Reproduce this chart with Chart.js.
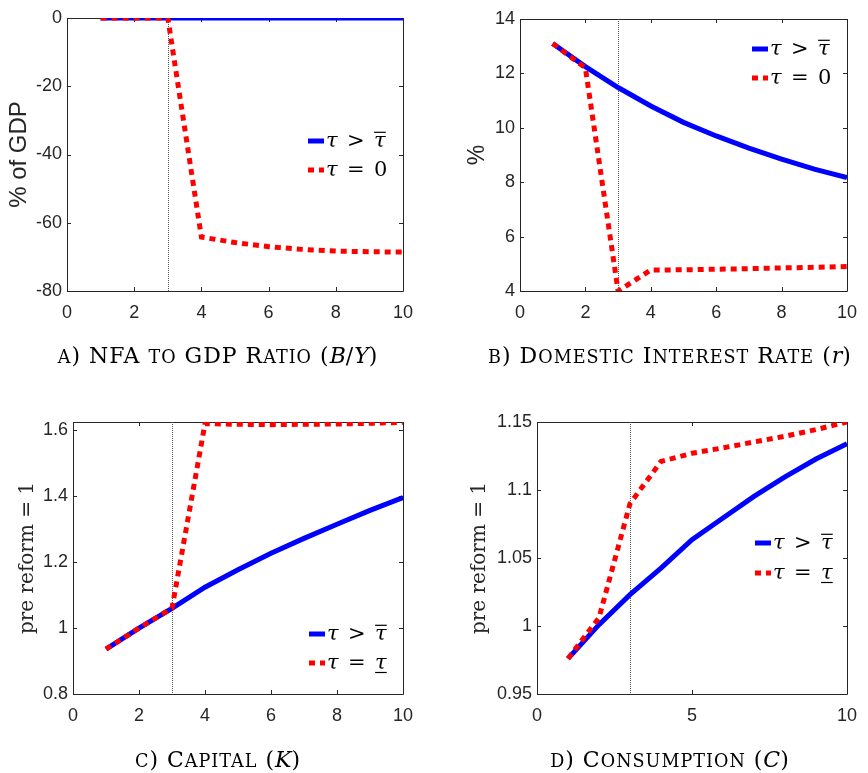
<!DOCTYPE html>
<html>
<head>
<meta charset="utf-8">
<script src="https://cdn.jsdelivr.net/npm/chart.js@4.4.1/dist/chart.umd.min.js"></script>
<style>
  body { margin: 0; background: #fff; }
  #page { position: relative; width: 868px; height: 773px; overflow: hidden; }
  .panel { position: absolute; }
  .caption {
    position: absolute; width: 420px; text-align: center; white-space: nowrap;
    font: 22px "DejaVu Serif", serif; line-height: 22px; color: #000; letter-spacing: 1px;
  }
  .caption i { letter-spacing: 0; }
  .lc { font-size: 0.8em; }
</style>
</head>
<body>
<div id="page">
  <canvas class="panel" id="nfaChart" width="434" height="380" style="left:0;top:0"></canvas>
  <canvas class="panel" id="rateChart" width="434" height="380" style="left:434px;top:0"></canvas>
  <canvas class="panel" id="capitalChart" width="434" height="393" style="left:0;top:380px"></canvas>
  <canvas class="panel" id="consChart" width="434" height="393" style="left:434px;top:380px"></canvas>

  <div class="caption" style="left:8px;top:345px"><span class="sc">a) NFA to GDP Ratio</span> (<i>B</i>/<i>Y</i>)</div>
  <div class="caption" style="left:460px;top:345px"><span class="sc">b) Domestic Interest Rate</span> (<i>r</i>)</div>
  <div class="caption" style="left:8px;top:749px"><span class="sc">c) Capital</span> (<i>K</i>)</div>
  <div class="caption" style="left:460px;top:749px"><span class="sc">d) Consumption</span> (<i>C</i>)</div>
</div>
<script>
// periods after the reform, reform happens in period 3
const periods = [1, 2, 3, 4, 5, 6, 7, 8, 9, 10];
const reformPeriod = 3;

// NFA to GDP ratio, % of GDP
const nfaHigh = [0, 0, 0, 0, 0, 0, 0, 0, 0, 0];
const nfaZero = [0, 0, 0, -64.2, -65.8, -67.0, -67.8, -68.3, -68.5, -68.6];

// domestic interest rate, %
const rateHigh = [13.1, 12.25, 11.48, 10.8, 10.2, 9.7, 9.25, 8.85, 8.48, 8.17];
const rateZero = [13.1, 12.2, 4.0, 4.77, 4.78, 4.8, 4.82, 4.85, 4.87, 4.9];

// capital, pre reform = 1
const capitalHigh = [0.936, 1.0, 1.06, 1.124, 1.177, 1.227, 1.272, 1.315, 1.357, 1.396];
const capitalLow = [0.936, 1.0, 1.06, 1.62, 1.618, 1.617, 1.618, 1.619, 1.621, 1.624];

// consumption, pre reform = 1
const consHigh = [0.976, 1.001, 1.023, 1.0426, 1.0635, 1.0794, 1.0953, 1.1096, 1.1228, 1.134];
const consLow = [0.976, 1.006, 1.09, 1.121, 1.127, 1.131, 1.1353, 1.1395, 1.1444, 1.15];

// tick labels
const xTicksTwo = [0, 2, 4, 6, 8, 10];
const xTicksFive = [0, 5, 10];
const nfaTicks = [-80, -60, -40, -20, 0];
const rateTicks = [4, 6, 8, 10, 12, 14];
const capitalTicks = [0.8, 1.0, 1.2, 1.4, 1.6];
const consTicks = [0.95, 1.0, 1.05, 1.1, 1.15];

// legend entries: lhs op rhs, with an optional bar over/under the rhs
const labelHigh = { lhs: 'τ', op: '>', rhs: 'τ', italicRhs: true, bar: 'over' };
const labelZero = { lhs: 'τ', op: '=', rhs: '0', italicRhs: false, bar: null };
const labelLow = { lhs: 'τ', op: '=', rhs: 'τ', italicRhs: true, bar: 'under' };

const axisColor = '#262626';
const serifFamily = '"DejaVu Serif", serif';
const tickFont = { family: '"Liberation Sans", Arial, sans-serif', size: 18 };

const pairs = values => values.map((v, i) => ({ x: periods[i], y: v }));
const fmt = v => String(Number(v.toFixed(3)));

// caption small caps: lower case runs become smaller capitals
document.querySelectorAll('.sc').forEach(el => {
  el.innerHTML = el.textContent.replace(/[a-z]+/g, m => '<span class="lc">' + m.toUpperCase() + '</span>');
});

// box around the axes with inward tick marks on all four sides
const matlabBox = {
  id: 'matlabBox',
  beforeDatasetsDraw(chart) {
    const { ctx, chartArea: a, scales: { x, y } } = chart;
    const len = 4;
    ctx.save();
    ctx.strokeStyle = axisColor;
    ctx.lineWidth = 1;
    ctx.beginPath();
    ctx.rect(Math.round(a.left) + 0.5, Math.round(a.top) + 0.5,
      Math.round(a.right - a.left), Math.round(a.bottom - a.top));
    x.ticks.forEach(t => {
      const px = Math.round(x.getPixelForValue(t.value)) + 0.5;
      ctx.moveTo(px, a.bottom); ctx.lineTo(px, a.bottom - len);
      ctx.moveTo(px, a.top); ctx.lineTo(px, a.top + len);
    });
    y.ticks.forEach(t => {
      const py = Math.round(y.getPixelForValue(t.value)) + 0.5;
      ctx.moveTo(a.left, py); ctx.lineTo(a.left + len, py);
      ctx.moveTo(a.right, py); ctx.lineTo(a.right - len, py);
    });
    ctx.stroke();
    ctx.restore();
  }
};

// thin dotted marker at the reform period
const reformLine = {
  id: 'reformLine',
  beforeDatasetsDraw(chart, args, opts) {
    const { ctx, chartArea: a, scales: { x } } = chart;
    const px = Math.round(x.getPixelForValue(opts.at)) + 0.5;
    ctx.save();
    ctx.strokeStyle = '#555';
    ctx.lineWidth = 1;
    ctx.setLineDash([1, 1]);
    ctx.beginPath();
    ctx.moveTo(px, a.top);
    ctx.lineTo(px, a.bottom);
    ctx.stroke();
    ctx.restore();
  }
};

// legend without a frame, math style labels
const tauLegend = {
  id: 'tauLegend',
  afterDatasetsDraw(chart, args, opts) {
    const { ctx, chartArea: a } = chart;
    const size = 21;
    const upright = size + 'px ' + serifFamily;
    const italic = 'italic ' + upright;
    const gap = 0.45 * size;
    ctx.save();
    chart.data.datasets.forEach((ds, i) => {
      const y = a.top + opts.top + i * opts.rowGap;
      const x0 = a.right - opts.left;
      // line sample
      ctx.strokeStyle = ds.borderColor;
      ctx.lineWidth = ds.borderWidth;
      ctx.setLineDash(ds.borderDash || []);
      ctx.beginPath();
      ctx.moveTo(x0, y);
      ctx.lineTo(x0 + 16, y);
      ctx.stroke();
      ctx.setLineDash([]);

      const lab = ds.legendText;
      const base = y + 6;
      let x = x0 + 18;
      ctx.fillStyle = '#000';
      ctx.textBaseline = 'alphabetic';
      ctx.textAlign = 'left';
      ctx.font = italic;
      ctx.fillText(lab.lhs, x, base);
      x += ctx.measureText(lab.lhs).width + gap;
      ctx.font = upright;
      ctx.fillText(lab.op, x, base);
      x += ctx.measureText(lab.op).width + gap;
      ctx.font = lab.italicRhs ? italic : upright;
      ctx.fillText(lab.rhs, x, base);
      const w = ctx.measureText(lab.rhs).width;
      if (lab.bar) {
        const by = lab.bar === 'over' ? base - 0.7 * size : base + 3.5;
        ctx.strokeStyle = '#000';
        ctx.lineWidth = 1.2;
        ctx.beginPath();
        ctx.moveTo(x, by);
        ctx.lineTo(x + w, by);
        ctx.stroke();
      }
    });
    ctx.restore();
  }
};

function buildPanel(id, spec) {
  new Chart(document.getElementById(id), {
    type: 'line',
    data: {
      datasets: [{
        label: 'tau > tau bar',
        data: pairs(spec.high),
        borderColor: '#0000ff',
        borderWidth: 5,
        order: 1,
        legendText: labelHigh
      }, {
        label: spec.lowLabel === labelZero ? 'tau = 0' : 'tau = tau underbar',
        data: pairs(spec.low),
        borderColor: '#ff0000',
        borderWidth: 5,
        borderDash: [6, 5],
        order: 0,
        legendText: spec.lowLabel
      }]
    },
    options: {
      responsive: false,
      animation: false,
      layout: { padding: spec.padding },
      elements: {
        point: { radius: 0, hoverRadius: 0 },
        line: { tension: 0, fill: false, borderCapStyle: 'butt' }
      },
      plugins: {
        legend: { display: false },
        tooltip: { enabled: false },
        tauLegend: spec.legend,
        reformLine: { at: reformPeriod }
      },
      scales: {
        x: {
          type: 'linear', min: 0, max: 10,
          grid: { display: false, drawTicks: false }, border: { display: false },
          afterBuildTicks: s => { s.ticks = spec.xTicks.map(v => ({ value: v })); },
          afterFit: s => { s.height = 40; },
          ticks: { padding: 11, font: tickFont, color: axisColor, maxRotation: 0, autoSkip: false, callback: fmt }
        },
        y: {
          type: 'linear', min: spec.yMin, max: spec.yMax,
          grid: { display: false, drawTicks: false }, border: { display: false },
          afterBuildTicks: s => { s.ticks = spec.yTicks.map(v => ({ value: v })); },
          afterFit: s => { s.width = spec.yWidth; },
          ticks: { padding: 5, font: tickFont, color: axisColor, autoSkip: false, callback: fmt },
          title: {
            display: true,
            text: spec.yTitle,
            color: axisColor,
            font: spec.yTitleFont,
            padding: { top: spec.yTitlePad, bottom: 0 }
          }
        }
      }
    },
    plugins: [matlabBox, reformLine, tauLegend]
  });
}

const sansTitle = { family: '"Liberation Sans", Arial, sans-serif', size: 24 };
const serifTitle = { family: serifFamily, size: 20 };

buildPanel('nfaChart', {
  high: nfaHigh, low: nfaZero, lowLabel: labelZero,
  xTicks: xTicksTwo, yTicks: nfaTicks, yMin: -80, yMax: 0,
  yTitle: '% of GDP', yTitleFont: sansTitle, yTitlePad: 4.6, yWidth: 67,
  padding: { left: 0, top: 18, right: 31, bottom: 49 },
  legend: { top: 123, rowGap: 29, left: 95 }
});

buildPanel('rateChart', {
  high: rateHigh, low: rateZero, lowLabel: labelZero,
  xTicks: xTicksTwo, yTicks: rateTicks, yMin: 4, yMax: 14,
  yTitle: '%', yTitleFont: { family: sansTitle.family, size: 23 }, yTitlePad: 30, yWidth: 86,
  padding: { left: 0, top: 19, right: 12, bottom: 49 },
  legend: { top: 30, rowGap: 29, left: 95 }
});

buildPanel('capitalChart', {
  high: capitalHigh, low: capitalLow, lowLabel: labelLow,
  xTicks: xTicksTwo, yTicks: capitalTicks, yMin: 0.8, yMax: 1.625,
  yTitle: 'pre reform = 1', yTitleFont: serifTitle, yTitlePad: 16, yWidth: 73,
  padding: { left: 0, top: 42, right: 31, bottom: 39 },
  legend: { top: 212, rowGap: 29, left: 94 }
});

buildPanel('consChart', {
  high: consHigh, low: consLow, lowLabel: labelLow,
  xTicks: xTicksFive, yTicks: consTicks, yMin: 0.95, yMax: 1.15,
  yTitle: 'pre reform = 1', yTitleFont: serifTitle, yTitlePad: 34, yWidth: 103,
  padding: { left: 0, top: 42, right: 12, bottom: 39 },
  legend: { top: 121, rowGap: 30, left: 92 }
});
</script>
</body>
</html>
